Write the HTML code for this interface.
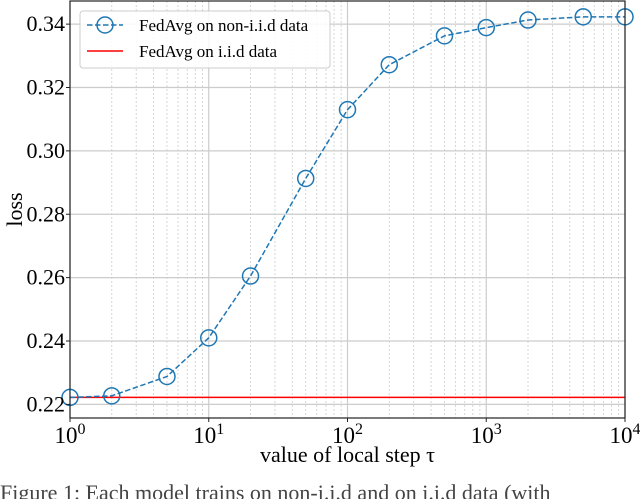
<!DOCTYPE html>
<html><head><meta charset="utf-8"><style>
body{margin:0;background:#fff;width:640px;height:499px;overflow:hidden}
svg{display:block;font-family:"Liberation Serif",serif}
</style></head><body>
<svg id="chart" width="640" height="499"></svg>
<script>
const xValues=[1,2,5,10,20,50,100,200,500,1000,2000,5000,10000];
const nonIidLoss=[0.2222,0.2227,0.2288,0.2410,0.2605,0.2913,0.3130,0.3272,0.3363,0.3389,0.3413,0.3423,0.3423];
const iidLoss=0.2222;
const yTicks=[0.22,0.24,0.26,0.28,0.30,0.32,0.34];
const yTickLabels=["0.22","0.24","0.26","0.28","0.30","0.32","0.34"];
const xDecades=[0,1,2,3,4];
const L=70,R=625,T=1,B=418,yMin=0.2157,yMax=0.3473;
const sx=v=>L+(Math.log10(v))/4*(R-L);
const sy=v=>B-(v-yMin)/(yMax-yMin)*(B-T);
const svg=document.getElementById('chart');
const NS='http://www.w3.org/2000/svg';
function mk(tag,attrs,parent){const e=document.createElementNS(NS,tag);for(const k in attrs)e.setAttribute(k,attrs[k]);(parent||svg).appendChild(e);return e;}
const grid=mk('g',{});


for(let d=0;d<4;d++){for(let m=2;m<=9;m++){const x=sx(m*Math.pow(10,d));mk('line',{x1:x,x2:x,y1:T,y2:B,stroke:'#ccc','stroke-width':0.8,'stroke-dasharray':'2,2'},grid);}}
xDecades.forEach(d=>{const x=sx(Math.pow(10,d));mk('line',{x1:x,x2:x,y1:T,y2:B,stroke:'#ccc','stroke-width':1.2},grid);});
yTicks.forEach(v=>{mk('line',{x1:L,x2:R,y1:sy(v),y2:sy(v),stroke:'#ccc','stroke-width':1.2},grid);});
const iid=mk('line',{x1:L,x2:R,y1:sy(iidLoss),y2:sy(iidLoss),stroke:'#ff0000','stroke-width':1.5});


const pts=xValues.map((x,i)=>sx(x)+','+sy(nonIidLoss[i])).join(' ');
const nl=mk('polyline',{points:pts,fill:'none',stroke:'#1f77b4','stroke-width':1.5,'stroke-dasharray':'5.5,2.5'});


xValues.forEach((x,i)=>{const c=mk('circle',{cx:sx(x),cy:sy(nonIidLoss[i]),r:8,fill:'none',stroke:'#1f77b4','stroke-width':1.5});

});
const frame=mk('rect',{x:L,y:T,width:R-L,height:B-T,fill:'none',stroke:'#222','stroke-width':1.2});


yTicks.forEach((v,i)=>{mk('line',{x1:L-4,x2:L,y1:sy(v),y2:sy(v),stroke:'#222'});
const t=mk('text',{x:L-5,y:sy(v)+7,'text-anchor':'end','font-size':22});t.textContent=yTickLabels[i];

});
xDecades.forEach(d=>{const x=sx(Math.pow(10,d));mk('line',{x1:x,x2:x,y1:B,y2:B+4,stroke:'#222'});
const t=mk('text',{x:x,y:B+25,'text-anchor':'middle','font-size':23});
t.innerHTML='10<tspan dy="-9" font-size="16">'+d+'</tspan>';

});
const xt=mk('text',{x:(L+R)/2,y:B+44,'text-anchor':'middle','font-size':22});xt.textContent='value of local step τ';


const yt=mk('text',{x:22,y:(T+B)/2,'text-anchor':'middle','font-size':22,transform:'rotate(-90 22 '+((T+B)/2)+')'});yt.textContent='loss';


const lg=mk('g',{});


mk('rect',{x:80,y:11,width:250,height:57,rx:3,fill:'#fff','fill-opacity':0.85,stroke:'#ccc'},lg);
mk('line',{x1:87,x2:123,y1:25,y2:25,stroke:'#1f77b4','stroke-width':1.5,'stroke-dasharray':'5.5,2.5'},lg);
mk('circle',{cx:105,cy:25,r:8,fill:'none',stroke:'#1f77b4','stroke-width':1.5},lg);
mk('line',{x1:87,x2:123,y1:51,y2:51,stroke:'#ff0000','stroke-width':1.5},lg);
const l1=mk('text',{x:139,y:31,'font-size':17},lg);l1.textContent='FedAvg on non-i.i.d data';


const l2=mk('text',{x:139,y:57,'font-size':17},lg);l2.textContent='FedAvg on i.i.d data';


const cap=mk('text',{x:0,y:500,'font-size':22,fill:'#444'});cap.textContent='Figure 1: Each model trains on non-i.i.d and on i.i.d data (with';


</script>
</body></html>
